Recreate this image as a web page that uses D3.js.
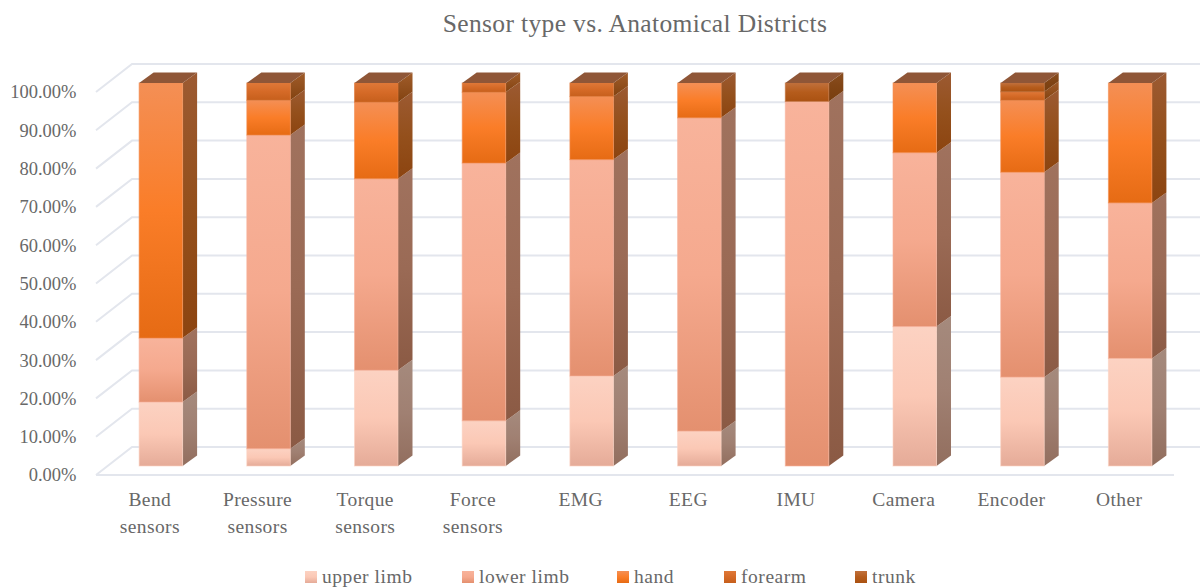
<!doctype html>
<html>
  <head>
    <meta charset="utf-8">
    <script src="https://cdnjs.cloudflare.com/ajax/libs/d3/7.8.5/d3.min.js"></script>
    <style>
      html, body { margin: 0; padding: 0; background: #fff; }
      svg { display: block; font-family: "Liberation Serif", serif; }
      text { fill: #686868; }
    </style>
  </head>
  <body>
    <svg width="1200" height="588"></svg>
    <script>
      var categories = [["Bend", "sensors"], ["Pressure", "sensors"], ["Torque", "sensors"], ["Force", "sensors"],
        ["EMG"], ["EEG"], ["IMU"], ["Camera"], ["Encoder"], ["Other"]];
      var seriesNames = ["upper limb", "lower limb", "hand", "forearm", "trunk"];
      var upperLimb = [16.7, 4.5, 25, 11.8, 23.5, 9.1, 0, 36.4, 23.2, 28.1];
      var lowerLimb = [16.7, 81.9, 50, 67.3, 56.5, 81.8, 95.2, 45.4, 53.5, 40.6];
      var hand = [66.6, 9.1, 20, 18.5, 16.5, 9.1, 0, 18.2, 18.8, 31.3];
      var forearm = [0, 4.5, 5, 2.4, 3.5, 0, 0, 0, 2.2, 0];
      var trunk = [0, 0, 0, 0, 0, 0, 4.8, 0, 2.3, 0];
      var tickValues = [0, 10, 20, 30, 40, 50, 60, 70, 80, 90, 100];

      // light, mid, dark stops for the front faces, then the same for the sides
      var frontColors = [
        ["#fcd2c2", "#fbc8b5", "#e5ab98"],
        ["#f8b39b", "#f5a98e", "#e4906f"],
        ["#f48f55", "#fa7d28", "#e66b14"],
        ["#df7838", "#d56a27", "#c65f1c"],
        ["#c0703c", "#b55c1c", "#aa5212"]
      ];
      var sideColors = [
        ["#a58a7d", "#a08072", "#926e5e"],
        ["#a0725e", "#9a6a55", "#8b5a44"],
        ["#9c5a32", "#94501c", "#8c4410"],
        ["#a05c2a", "#92501e", "#824210"],
        ["#8a4e20", "#804414", "#783e10"]
      ];
      var topColor = "#8f5637";

      var svg = d3.select("svg");
      var defs = svg.append("defs");

      var floorDx = 36, floorDy = -28;
      var barDx = 14.5, barDy = -10.5;
      var barOffX = 11, barOffY = -9;

      var x = d3.scaleBand()
        .domain(d3.range(categories.length))
        .range([96, 1173])
        .paddingInner(0.596)
        .paddingOuter(0.298);
      var y = d3.scaleLinear().domain([0, 100]).range([475, 92]);

      function addGradient(id, stops) {
        var g = defs.append("linearGradient").attr("id", id)
          .attr("x1", 0).attr("y1", 0).attr("x2", 0).attr("y2", 1);
        g.append("stop").attr("offset", "0%").attr("stop-color", stops[0]);
        g.append("stop").attr("offset", "50%").attr("stop-color", stops[1]);
        g.append("stop").attr("offset", "100%").attr("stop-color", stops[2]);
      }
      seriesNames.forEach((s, i) => {
        addGradient("front" + i, frontColors[i]);
        addGradient("side" + i, sideColors[i]);
      });

      svg.append("text")
        .attr("x", 635).attr("y", 32)
        .attr("text-anchor", "middle")
        .style("font-size", "25.5px")
        .style("letter-spacing", "0.35px")
        .text("Sensor type vs. Anatomical Districts");

      // gridlines: diagonal on the floor side, then along the back wall
      var grid = svg.append("g")
        .attr("fill", "none")
        .attr("stroke", "#e3e6ed")
        .attr("stroke-width", 2);
      grid.selectAll("path.tick")
        .data(tickValues)
        .enter()
        .append("path")
          .attr("class", "tick")
          .attr("d", d => `M96,${y(d)}L${96 + floorDx},${y(d) + floorDy}L1200,${y(d) + floorDy}`);
      grid.append("path").attr("d", `M96,${y(0)}L1174,${y(0)}`);

      var axisG = svg.append("g")
        .attr("transform", "translate(80.5,0)")
        .call(d3.axisLeft(y).tickValues(tickValues).tickSize(0).tickFormat(d => d.toFixed(2) + "%"));
      axisG.select(".domain").remove();
      axisG.selectAll("text")
        .attr("x", -4)
        .attr("dy", "0.32em")
        .style("font-family", "'Liberation Serif', serif")
        .style("font-size", "18.5px")
        .style("fill", "#686868");

      var rows = categories.map((c, i) => ({
        index: i,
        "upper limb": upperLimb[i],
        "lower limb": lowerLimb[i],
        "hand": hand[i],
        "forearm": forearm[i],
        "trunk": trunk[i]
      }));
      var stacked = d3.stack().keys(seriesNames)(rows);

      var bars = svg.selectAll("g.bar")
        .data(rows)
        .enter()
        .append("g")
          .attr("class", "bar")
          .attr("transform", `translate(${barOffX},${barOffY})`);

      bars.each(function (row, i) {
        var g = d3.select(this);
        var left = x(row.index), w = x.bandwidth();
        var segs = stacked.map((s, k) => ({ k: k, y0: s[i][0], y1: s[i][1] })).filter(d => d.y1 > d.y0);

        segs.forEach(d => {
          var yT = y(d.y1), yB = y(d.y0);
          g.append("path")
            .attr("d", `M${left + w},${yB}L${left + w + barDx},${yB + barDy}L${left + w + barDx},${yT + barDy}L${left + w},${yT}Z`)
            .attr("fill", `url(#side${d.k})`);
          g.append("rect")
            .attr("x", left).attr("y", yT)
            .attr("width", w).attr("height", yB - yT)
            .attr("fill", `url(#front${d.k})`)
            .attr("stroke", frontColors[d.k][0])
            .attr("stroke-opacity", 0.6)
            .attr("stroke-width", 1);
        });

        var yTop = y(100);
        g.append("path")
          .attr("d", `M${left},${yTop}L${left + barDx},${yTop + barDy}L${left + w + barDx},${yTop + barDy}L${left + w},${yTop}Z`)
          .attr("fill", topColor);
      });

      // category labels, wrapped onto two lines where the original does
      var labels = svg.selectAll("text.cat")
        .data(categories)
        .enter()
        .append("text")
          .attr("class", "cat")
          .attr("text-anchor", "middle")
          .style("font-size", "19.5px")
          .style("letter-spacing", "0.4px");
      labels.each(function (lines, i) {
        d3.select(this).selectAll("tspan")
          .data(lines)
          .enter()
          .append("tspan")
            .attr("x", x(i) + x.bandwidth() / 2)
            .attr("y", (d, j) => 506 + j * 27)
            .text(d => d);
      });

      var legendX = [305, 462, 617, 724, 855];
      var legend = svg.selectAll("g.legend")
        .data(seriesNames)
        .enter()
        .append("g")
          .attr("class", "legend")
          .attr("transform", (d, i) => `translate(${legendX[i]},571)`);
      legend.append("rect")
        .attr("width", 12).attr("height", 12)
        .attr("fill", (d, i) => `url(#front${i})`);
      legend.append("text")
        .attr("x", 17).attr("y", 12)
        .style("font-size", "19.5px")
        .style("letter-spacing", "0.55px")
        .text(d => d);
    </script>
  </body>
</html>
